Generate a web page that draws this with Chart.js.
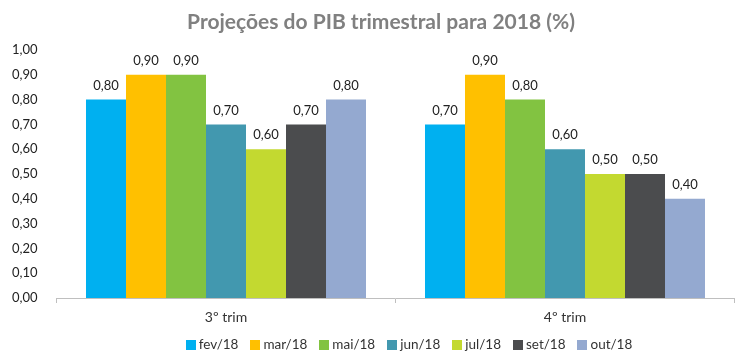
<!DOCTYPE html>
<html><head><meta charset="utf-8">
<script src="https://cdn.jsdelivr.net/npm/chart.js@4.4.1/dist/chart.umd.min.js"></script>
<style>html,body{margin:0;padding:0;background:#fff;}canvas{display:block;}</style>
</head><body>
<canvas id="c" width="751" height="357"></canvas>
<script>
const categories = ["3º trim", "4º trim"];
const seriesNames = ["fev/18", "mar/18", "mai/18", "jun/18", "jul/18", "set/18", "out/18"];
const fev = [0.80, 0.70];
const mar = [0.90, 0.90];
const mai = [0.90, 0.80];
const jun = [0.70, 0.60];
const jul = [0.60, 0.50];
const set = [0.70, 0.50];
const out = [0.80, 0.40];
const yTicks = [0, 0.1, 0.2, 0.3, 0.4, 0.5, 0.6, 0.7, 0.8, 0.9, 1.0];
const colors = ["#00B0F0", "#FFC000", "#82C341", "#4298AF", "#C3D930", "#4B4C4E", "#94A9D0"];
const title = "Projeções do PIB trimestral para 2018 (%)";
const values = [fev, mar, mai, jun, jul, set, out];

const FONT = "Lato, 'Open Sans', sans-serif";
const fmt = v => v.toFixed(2).replace('.', ',');

const extras = {
  id: 'extras',
  afterDatasetsDraw(chart) {
    const ctx = chart.ctx;
    ctx.save();
    // data labels
    ctx.font = "13px " + FONT;
    ctx.fillStyle = "#222";
    ctx.textAlign = "center";
    ctx.textBaseline = "middle";
    chart.data.datasets.forEach((ds, i) => {
      const meta = chart.getDatasetMeta(i);
      meta.data.forEach((el, j) => {
        ctx.fillText(fmt(ds.data[j]), el.x, el.y - 14);
      });
    });
    // title
    ctx.font = "bold 21px " + FONT;
    ctx.fillStyle = "#808080";
    ctx.fillText(title, 381, 22);
    // legend
    ctx.font = "13.5px " + FONT;
    const box = 10, gapText = 3, gapItem = 12;
    let total = 0;
    const widths = chart.data.datasets.map(ds => ctx.measureText(ds.label).width);
    widths.forEach((w, i) => { total += box + gapText + w + (i < widths.length - 1 ? gapItem : 0); });
    let x = 409 - total / 2;
    const y = 345;
    ctx.textAlign = "left";
    chart.data.datasets.forEach((ds, i) => {
      ctx.fillStyle = ds.backgroundColor;
      ctx.fillRect(Math.round(x), y - 5, box, box);
      ctx.fillStyle = "#333";
      ctx.fillText(ds.label, x + box + gapText, y);
      x += box + gapText + widths[i] + gapItem;
    });
    ctx.restore();
  }
};

new Chart(document.getElementById('c'), {
  type: 'bar',
  data: {
    labels: categories,
    datasets: seriesNames.map((n, i) => ({
      label: n, data: values[i], backgroundColor: colors[i],
      borderWidth: 0, categoryPercentage: 0.826, barPercentage: 1.0
    }))
  },
  options: {
    responsive: false, animation: false,
    layout: { padding: { top: 50, right: 16.5, left: 0, bottom: 0 } },
    plugins: { legend: { display: false }, title: { display: false }, tooltip: { enabled: false } },
    scales: {
      x: {
        afterFit(s) { s.height = 59; },
        grid: { display: true, offset: true, drawOnChartArea: false, drawTicks: true, tickLength: 5, color: "#BFBFBF" },
        border: { display: true, color: "#BFBFBF", width: 1 },
        ticks: { font: { family: FONT, size: 14 }, color: "#333", padding: 6 }
      },
      y: {
        min: 0, max: 1,
        afterFit(s) { s.width = 56.5; },
        afterBuildTicks(s) { s.ticks = yTicks.map(v => ({ value: v })); },
        grid: { display: false },
        border: { display: false },
        ticks: { font: { family: FONT, size: 13 }, color: "#222", padding: 11, callback: v => fmt(v) }
      }
    }
  },
  plugins: [extras]
});
</script>
</body></html>
